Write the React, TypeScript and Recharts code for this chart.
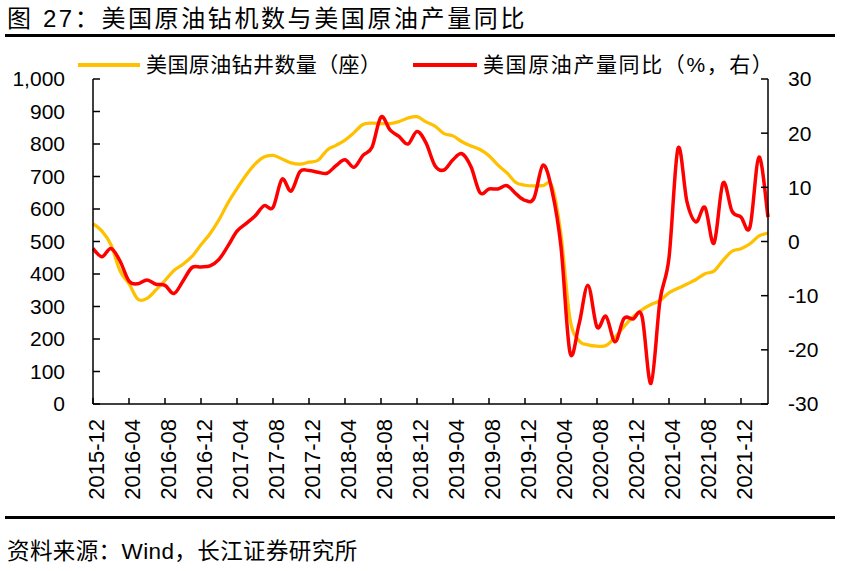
import React from "react";
import { LineChart, Line, XAxis, YAxis, Legend } from "recharts";

const FONT = "'Liberation Sans', 'Noto Sans CJK SC', sans-serif";

// monthly categories 2015-12 .. 2022-03
const START_YEAR = 2015;
const START_MONTH = 12;
const MONTH_COUNT = 76;
const months = Array.from({ length: MONTH_COUNT }, (_, i) => {
  const t = START_MONTH - 1 + i;
  const y = START_YEAR + Math.floor(t / 12);
  const m = (t % 12) + 1;
  return `${y}-${String(m).padStart(2, "0")}`;
});

// 美国原油钻井数量（座）
const rigCount = [
  555, 532, 490, 410, 370, 322, 325, 351, 380, 411,
  430, 454, 490, 524, 567, 619, 663, 704, 738, 760,
  765, 754, 742, 738, 744, 750, 781, 796, 812, 835,
  860, 864, 863, 863, 869, 880, 884, 868, 855, 832,
  825, 807, 794, 783, 764, 735, 711, 681, 673, 671,
  672, 670, 520, 262, 195, 182, 178, 180, 205, 238,
  268, 290, 306, 318, 342, 356, 369, 383, 401, 409,
  442, 470, 478, 493, 517, 526,
];

// 美国原油产量同比（%）
const prodYoy = [
  -1.3, -2.8, -1.3, -3.6, -7.3, -7.8, -7.1, -7.9, -8.1, -9.6,
  -7.3, -4.8, -4.7, -4.5, -3.3, -0.8, 1.9, 3.3, 4.7, 6.6,
  6.3, 11.5, 9.3, 12.9, 13.1, 12.8, 12.6, 14.0, 15.1, 13.7,
  15.9, 17.4, 23.0, 20.6, 19.4, 18.0, 20.3, 18.2, 14.0, 13.2,
  15.1, 16.2, 13.8, 9.0, 9.7, 9.7, 10.3, 8.8, 7.6, 8.0,
  14.1, 9.4, -1.0, -20.5, -15.3, -8.1, -15.8, -13.8, -18.5, -14.2,
  -14.3, -13.8, -26.2, -10.9, -3.0, 17.2, 7.3, 3.6, 6.3, -0.3,
  10.8, 5.6, 4.5, 2.7, 15.6, 4.5,
];

const leftTicks = [0, 100, 200, 300, 400, 500, 600, 700, 800, 900, 1000];
const rightTicks = [-30, -20, -10, 0, 10, 20, 30];

const data = months.map((month, i) => ({
  month,
  rigs: rigCount[i],
  yoy: prodYoy[i],
}));

// Excel-like smoothed line (bezier through every point)
const excelSmooth = (ctx: any) => {
  let pts: [number, number][] = [];
  return {
    areaStart() {},
    areaEnd() {},
    lineStart() {
      pts = [];
    },
    point(x: number, y: number) {
      pts.push([+x, +y]);
    },
    lineEnd() {
      if (!pts.length) return;
      ctx.moveTo(pts[0][0], pts[0][1]);
      for (let i = 0; i < pts.length - 1; i++) {
        const p0 = pts[Math.max(i - 1, 0)];
        const p1 = pts[i];
        const p2 = pts[i + 1];
        const p3 = pts[Math.min(i + 2, pts.length - 1)];
        ctx.bezierCurveTo(
          p1[0] + (p2[0] - p0[0]) / 6,
          p1[1] + (p2[1] - p0[1]) / 6,
          p2[0] - (p3[0] - p1[0]) / 6,
          p2[1] - (p3[1] - p1[1]) / 6,
          p2[0],
          p2[1]
        );
      }
    },
  };
};

const XTick = ({ x, y, payload }: any) => (
  <text
    x={x + 3}
    y={y}
    transform={`rotate(-90, ${x + 3}, ${y})`}
    textAnchor="end"
    dominantBaseline="central"
    fontSize={22}
    fontFamily={FONT}
    fill="#000"
  >
    {payload.value}
  </text>
);

const renderLegend = () => (
  <div style={{ position: "relative", width: 841, height: 28, fontFamily: FONT, fontSize: 21, color: "#000" }}>
    <div style={{ position: "absolute", left: 78, top: 12, width: 62, height: 4, background: "#FFC000" }} />
    <div style={{ position: "absolute", left: 146, top: 0, lineHeight: "28px", letterSpacing: 0.4, whiteSpace: "nowrap" }}>
      美国原油钻井数量（座）
    </div>
    <div style={{ position: "absolute", left: 413, top: 12, width: 64, height: 4, background: "#FF0000" }} />
    <div style={{ position: "absolute", left: 483, top: 0, lineHeight: "28px", letterSpacing: 1.6, whiteSpace: "nowrap" }}>
      美国原油产量同比（%，右）
    </div>
  </div>
);

export default function App() {
  return (
    <div style={{ position: "absolute", left: 0, top: 0, width: 841, height: 571, background: "#fff", fontFamily: FONT }}>
      <div style={{ position: "absolute", left: 7, top: 4, fontSize: 24, letterSpacing: 2.6, lineHeight: "30px", whiteSpace: "nowrap", color: "#000" }}>
        图 <span style={{ fontFamily: "'Liberation Sans Narrow', 'Liberation Sans'" }}>27</span>：美国原油钻机数与美国原油产量同比
      </div>
      <div style={{ position: "absolute", left: 5, top: 34, width: 830, height: 3, background: "#000" }} />

      <LineChart width={841} height={571} data={data} margin={{ top: 51, right: 0, bottom: 0, left: 0 }}>
        <Legend verticalAlign="top" content={renderLegend} wrapperStyle={{ top: 51, left: 0, width: 841 }} />
        <XAxis
          dataKey="month"
          interval={3}
          height={167}
          tick={<XTick />}
          tickSize={-6}
          tickMargin={21}
          axisLine={{ stroke: "#000", strokeWidth: 1.5 }}
          tickLine={{ stroke: "#000", strokeWidth: 1.5 }}
        />
        <YAxis
          yAxisId="left"
          width={93}
          domain={[0, 1000]}
          ticks={leftTicks}
          tickFormatter={(v: number) => v.toLocaleString("en-US")}
          tickSize={-7}
          tickMargin={35}
          tick={{ fontSize: 21, fill: "#000", fontFamily: FONT }}
          axisLine={{ stroke: "#000", strokeWidth: 1.5 }}
          tickLine={{ stroke: "#000", strokeWidth: 1.5 }}
        />
        <YAxis
          yAxisId="right"
          orientation="right"
          width={73}
          domain={[-30, 30]}
          ticks={rightTicks}
          tickSize={-7}
          tickMargin={27}
          tick={{ fontSize: 21, fill: "#000", fontFamily: FONT, textAnchor: "start" }}
          axisLine={{ stroke: "#000", strokeWidth: 1.5 }}
          tickLine={{ stroke: "#000", strokeWidth: 1.5 }}
        />
        <Line
          yAxisId="left"
          dataKey="rigs"
          type={excelSmooth as any}
          stroke="#FFC000"
          strokeWidth={3.25}
          dot={false}
          isAnimationActive={false}
        />
        <Line
          yAxisId="right"
          dataKey="yoy"
          type={excelSmooth as any}
          stroke="#FF0000"
          strokeWidth={3.5}
          dot={false}
          isAnimationActive={false}
        />
      </LineChart>

      <div style={{ position: "absolute", left: 5, top: 516, width: 830, height: 3, background: "#000" }} />
      <div style={{ position: "absolute", left: 7, top: 537, fontSize: 22.5, letterSpacing: 0.4, lineHeight: "30px", whiteSpace: "nowrap", color: "#000" }}>
        资料来源：Wind，长江证券研究所
      </div>
    </div>
  );
}
